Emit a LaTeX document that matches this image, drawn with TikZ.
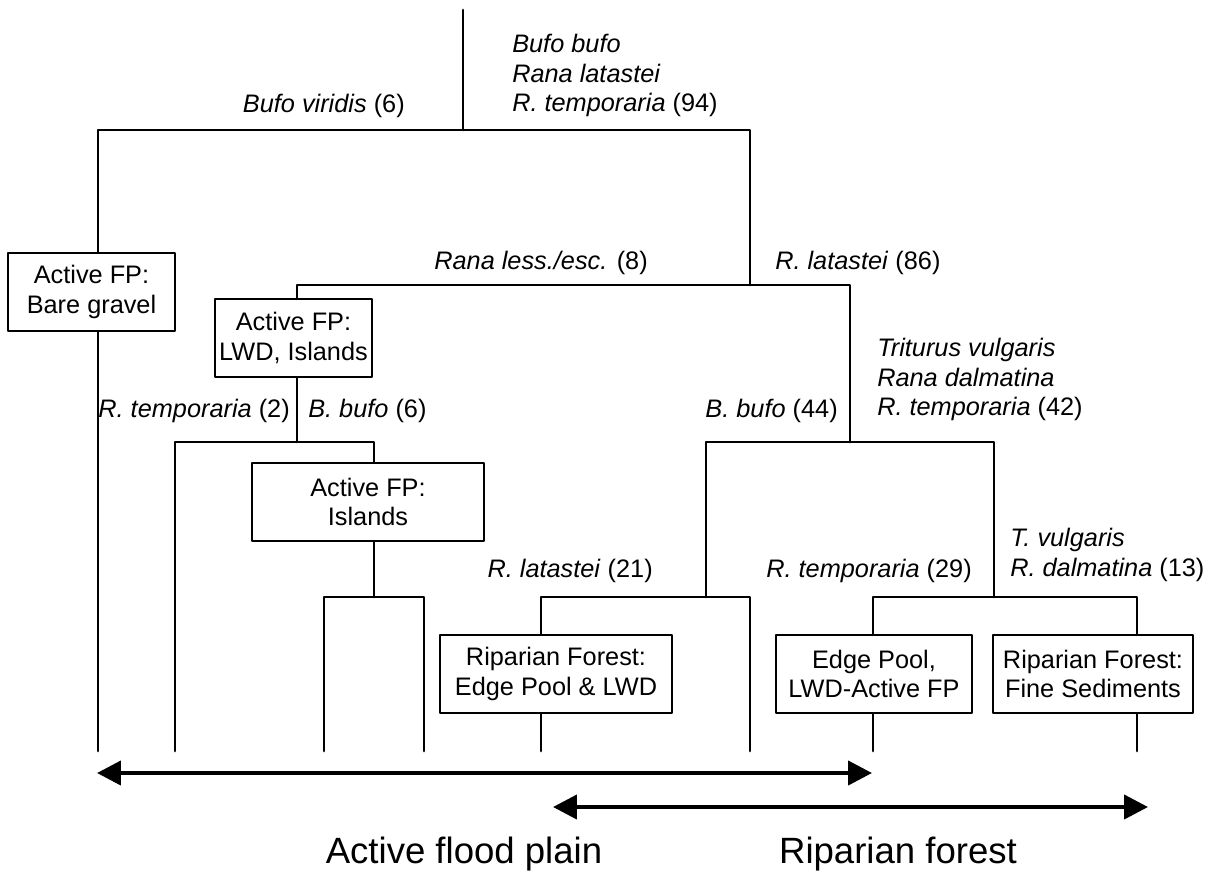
\documentclass[tikz,border=0pt]{standalone}
\usepackage{fontspec}
\setmainfont{Liberation Sans}
\usetikzlibrary{arrows.meta}
\begin{document}
\begin{tikzpicture}[x=0.025cm, y=-0.025cm, font=\fontsize{18}{21}\selectfont, line join=round, line cap=round, >={Triangle[length=17pt, width=17pt]},
		branch/.style={line width=2pt},
		habitat/.style={draw, line width=0.9pt, align=center, inner sep=0pt, minimum height=1.95cm},
		species/.style={inner sep=0pt, align=left},
		span/.style={line width=3pt, <->}]
	\useasboundingbox (0,0) rectangle (1215,876);
	\coordinate (top) at (463,10);
	\coordinate (n0) at (463,130);
	\coordinate (n1) at (750,285);
	\coordinate (n2) at (297,442);
	\coordinate (n3) at (374,597);
	\coordinate (n4) at (850,442);
	\coordinate (n5) at (706,597);
	\coordinate (n6) at (994,597);
	\coordinate (l1) at (98,751);
	\coordinate (l2) at (175,751);
	\coordinate (l3) at (324,751);
	\coordinate (l4) at (424,751);
	\coordinate (l5) at (541,751);
	\coordinate (l6) at (750,751);
	\coordinate (l7) at (873,751);
	\coordinate (l8) at (1137,751);
	\node[habitat, minimum width=4.175cm] (bare) at (91.5,292) {Active FP:\\Bare gravel};
	\node[habitat, minimum width=3.925cm] (lwd) at (293.5,338) {Active FP:\\LWD, Islands};
	\node[habitat, minimum width=5.8cm] (isl) at (368,502) {Active FP:\\Islands};
	\node[habitat, minimum width=5.8cm] (rip) at (556,674) {Riparian Forest:\\Edge Pool \& LWD};
	\node[habitat, minimum width=4.9cm] (edge) at (874,674) {Edge Pool,\\LWD-Active FP};
	\node[habitat, minimum width=5cm] (fine) at (1093,674) {Riparian Forest:\\Fine Sediments};
	\draw[branch] (top) -- (n0);
	\draw[branch] (bare.north -| l1) |- (n0) -| (n1);
	\draw[branch] (bare.south -| l1) -- (l1);
	\draw[branch] (lwd.north -| n2) |- (n1) -| (n4);
	\draw[branch] (lwd.south -| n2) -- (n2);
	\draw[branch] (l2) |- (n2) -| (isl.north -| n3);
	\draw[branch] (isl.south -| n3) -- (n3);
	\draw[branch] (l3) |- (n3) -| (l4);
	\draw[branch] (n5) |- (n4) -| (n6);
	\draw[branch] (rip.north -| l5) |- (n5) -| (l6);
	\draw[branch] (rip.south -| l5) -- (l5);
	\draw[branch] (edge.north -| l7) |- (n6) -| (fine.north -| l8);
	\draw[branch] (edge.south -| l7) -- (l7);
	\draw[branch] (fine.south -| l8) -- (l8);
	\node[inner sep=0pt, anchor=base east] (viridis) at (405,112) {\textit{Bufo viridis} (6)};
	\node[species, anchor=north west] (rootsp) at (512,34) {\textit{Bufo bufo}\\\textit{Rana latastei}\\\textit{R. temporaria} (94)};
	\node[inner sep=0pt, anchor=base east] (lessesc) at (648,269) {\textit{Rana less./esc.} (8)};
	\node[inner sep=0pt, anchor=base west] (lat86) at (775,269) {\textit{R. latastei} (86)};
	\node[inner sep=0pt, anchor=base east] (temp2) at (290,417) {\textit{R. temporaria} (2)};
	\node[inner sep=0pt, anchor=base west] (bufo6) at (308,417) {\textit{B. bufo} (6)};
	\node[inner sep=0pt, anchor=base east] (bufo44) at (838,417) {\textit{B. bufo} (44)};
	\node[species, anchor=north west] (trit42) at (877,338) {\textit{Triturus vulgaris}\\\textit{Rana dalmatina}\\\textit{R. temporaria} (42)};
	\node[inner sep=0pt, anchor=base east] (lat21) at (653,577) {\textit{R. latastei} (21)};
	\node[inner sep=0pt, anchor=base east] (temp29) at (972,577) {\textit{R. temporaria} (29)};
	\node[species, anchor=north west] (dalm13) at (1010,528) {\textit{T. vulgaris}\\\textit{R. dalmatina} (13)};
	\coordinate (fpL) at (97,773);
	\coordinate (fpR) at (872,773);
	\coordinate (rfL) at (553,807);
	\coordinate (rfR) at (1148,807);
	\draw[span] (fpL) -- (fpR);
	\draw[span] (rfL) -- (rfR);
	\node[font=\fontsize{26}{30}\selectfont, anchor=base] (fplain) at (464,863) {Active flood plain};
	\node[font=\fontsize{26}{30}\selectfont, anchor=base] (rforest) at (898,863) {Riparian forest};
\end{tikzpicture}
\end{document}
